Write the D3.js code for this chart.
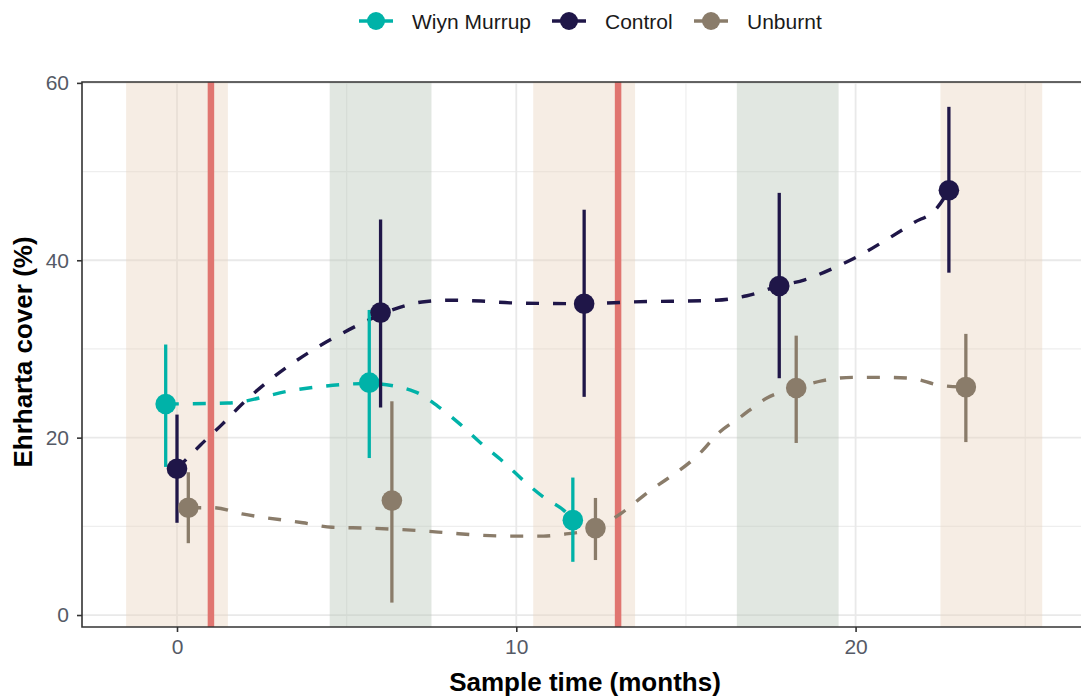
<!DOCTYPE html>
<html>
<head>
<meta charset="utf-8">
<script src="https://cdn.jsdelivr.net/npm/d3@7"></script>
<style>
  html, body { margin: 0; padding: 0; background: #ffffff; }
  svg { display: block; font-family: "Liberation Sans", Arial, sans-serif; }
</style>
</head>
<body>
<svg id="chart" width="1081" height="699"></svg>
<script>
// ---------- data ----------
const seriesNames = ["Wiyn Murrup", "Control", "Unburnt"];
const seriesColors = ["#00b2a8", "#1f1648", "#8a7c6a"];

const times = [0, 6, 12, 18, 23];

// mean cover (%) and error bar limits per series, aligned with `times` (null = not sampled)
const wiynMean  = [23.8, 26.2, 10.7, null, null];
const wiynLow   = [16.7, 17.7, 6.0, null, null];
const wiynHigh  = [30.5, 34.4, 15.5, null, null];

const controlMean = [16.5, 34.1, 35.1, 37.1, 47.9];
const controlLow  = [10.4, 23.4, 24.6, 26.7, 38.6];
const controlHigh = [22.6, 44.6, 45.7, 47.6, 57.3];

const unburntMean = [12.1, 12.9, 9.8, 25.6, 25.7];
const unburntLow  = [8.1, 1.4, 6.2, 19.4, 19.5];
const unburntHigh = [16.1, 24.1, 13.2, 31.5, 31.7];

// fitted trend lines: [time, cover]
const wiynTrend = [[-0.33,23.8],[1.5,23.9],[3.5,25.4],[5.67,26.1],[7.0,25.2],[7.7,23.5],[8.35,21.5],[8.95,19.4],[9.67,17.1],[10.2,15.2],[10.8,13.3],[11.4,11.8],[11.67,10.8]];
const controlTrend = [[0,16.5],[0.7,19.2],[1.33,21.5],[1.95,23.9],[3.97,29.8],[4.74,31.5],[5.5,33.0],[6.34,34.4],[7.22,35.3],[8.04,35.5],[8.96,35.4],[9.82,35.2],[12,35.1],[13.4,35.3],[15.9,35.5],[16.8,36.0],[17.74,37.1],[18.5,37.8],[19.4,39.2],[20.1,40.5],[20.9,42.3],[21.7,44.2],[22.4,45.9],[22.75,47.9]];
const unburntTrend = [[0.33,12.1],[1.06,12.1],[1.92,11.4],[3.71,10.4],[4.57,9.9],[5.63,9.8],[7.19,9.5],[8.04,9.25],[8.93,9.0],[9.75,8.9],[10.8,8.9],[11.38,9.1],[12.33,9.8],[13.1,11.5],[13.8,13.6],[15.5,18.6],[15.9,20.3],[16.6,22.3],[17.4,24.5],[18.24,25.6],[19.0,26.4],[19.9,26.8],[20.75,26.8],[21.6,26.7],[22.5,25.9],[23.25,25.7]];

// shaded seasonal bands [start, end, type]
const bandStarts = [-1.5, 4.5, 10.5, 16.5, 22.5];
const bandEnds   = [1.5, 7.5, 13.5, 19.5, 25.5];
const bandTypes  = ["warm", "cool", "warm", "cool", "warm"];
// burn events (months)
const burnTimes = [1, 13];

const xTicks = [0, 10, 20];
const xMinor = [5, 15, 25];
const yTicks = [0, 20, 40, 60];
const yMinor = [10, 30, 50];

const xTitle = "Sample time (months)";
const yTitle = "Ehrharta cover (%)";

// ---------- layout ----------
const svg = d3.select("#chart");
const panel = { left: 82, right: 1088, top: 82, bottom: 627 };

const x = d3.scaleLinear().domain([-2.8, 26.85]).range([panel.left, panel.right]);
const y = d3.scaleLinear().domain([-1.35, 60.1]).range([panel.bottom, panel.top]);

const bandFill = { warm: "#e8d3bc", cool: "#b3c3b4" };

// clip
svg.append("defs").append("clipPath").attr("id", "clip")
  .append("rect").attr("x", panel.left).attr("y", panel.top)
  .attr("width", panel.right - panel.left).attr("height", panel.bottom - panel.top);

const g = svg.append("g").attr("clip-path", "url(#clip)");

// grid
g.selectAll(".ygm").data(yMinor).join("line")
  .attr("x1", panel.left).attr("x2", panel.right)
  .attr("y1", d => y(d)).attr("y2", d => y(d))
  .attr("stroke", "#eeeeee").attr("stroke-width", 1.2);
g.selectAll(".xgm").data(xMinor).join("line")
  .attr("y1", panel.top).attr("y2", panel.bottom)
  .attr("x1", d => x(d)).attr("x2", d => x(d))
  .attr("stroke", "#eeeeee").attr("stroke-width", 1.2);
g.selectAll(".yg").data(yTicks).join("line")
  .attr("x1", panel.left).attr("x2", panel.right)
  .attr("y1", d => y(d)).attr("y2", d => y(d))
  .attr("stroke", "#e9e9e9").attr("stroke-width", 1.8);
g.selectAll(".xg").data(xTicks).join("line")
  .attr("y1", panel.top).attr("y2", panel.bottom)
  .attr("x1", d => x(d)).attr("x2", d => x(d))
  .attr("stroke", "#e9e9e9").attr("stroke-width", 1.8);

// bands
g.selectAll(".band").data(bandStarts.map((s, i) => ({ s, e: bandEnds[i], t: bandTypes[i] }))).join("rect")
  .attr("x", d => x(d.s)).attr("width", d => x(d.e) - x(d.s))
  .attr("y", panel.top).attr("height", panel.bottom - panel.top)
  .attr("fill", d => bandFill[d.t]).attr("fill-opacity", 0.4);

// burn lines
g.selectAll(".burn").data(burnTimes).join("line")
  .attr("x1", d => x(d)).attr("x2", d => x(d))
  .attr("y1", panel.top).attr("y2", panel.bottom)
  .attr("stroke", "#e07570").attr("stroke-width", 6.5);

// series assembly
const means = [wiynMean, controlMean, unburntMean];
const lows = [wiynLow, controlLow, unburntLow];
const highs = [wiynHigh, controlHigh, unburntHigh];
const trends = [wiynTrend, controlTrend, unburntTrend];

// dodge (width 1, like position_dodge)
const pts = [];
times.forEach((t, ti) => {
  const present = [0, 1, 2].filter(si => means[si][ti] != null);
  const n = present.length;
  present.forEach((si, k) => {
    const off = (k - (n - 1) / 2) * (1 / n);
    pts.push({ si, t: t + off, m: means[si][ti], lo: lows[si][ti], hi: highs[si][ti] });
  });
});

// trend lines
const line = d3.line().x(d => x(d[0])).y(d => y(d[1])).curve(d3.curveMonotoneX);
g.selectAll(".trend").data(trends).join("path")
  .attr("d", d => line(d))
  .attr("fill", "none")
  .attr("stroke", (d, i) => seriesColors[i])
  .attr("stroke-width", 3.4)
  .attr("stroke-dasharray", "13,14");

// error bars and points, by series order
[0, 1, 2].forEach(si => {
  const p = pts.filter(d => d.si === si);
  g.selectAll(".err" + si).data(p).join("line")
    .attr("x1", d => x(d.t)).attr("x2", d => x(d.t))
    .attr("y1", d => y(d.lo)).attr("y2", d => y(d.hi))
    .attr("stroke", seriesColors[si]).attr("stroke-width", 3.3);
  g.selectAll(".pt" + si).data(p).join("circle")
    .attr("cx", d => x(d.t)).attr("cy", d => y(d.m)).attr("r", 10.3)
    .attr("fill", seriesColors[si]);
});

// panel border (top, left, bottom)
svg.append("path")
  .attr("d", `M${panel.right},${panel.top}H${panel.left}V${panel.bottom}H${panel.right}`)
  .attr("fill", "none").attr("stroke", "#333333").attr("stroke-width", 1.6);

// axes
const xAxis = svg.append("g").attr("transform", `translate(0,${panel.bottom})`)
  .call(d3.axisBottom(x).tickValues(xTicks).tickSize(5).tickPadding(7).tickFormat(d3.format("d")));
const yAxis = svg.append("g").attr("transform", `translate(${panel.left},0)`)
  .call(d3.axisLeft(y).tickValues(yTicks).tickSize(5).tickPadding(8).tickFormat(d3.format("d")));
[xAxis, yAxis].forEach(a => {
  a.select(".domain").remove();
  a.selectAll(".tick line").attr("stroke", "#333333").attr("stroke-width", 1.6);
  a.selectAll(".tick text").attr("fill", "#555a66").style("font-size", "21px")
    .style("font-family", '"Liberation Sans", Arial, sans-serif');
});

// axis titles
svg.append("text").attr("x", 585).attr("y", 691).attr("text-anchor", "middle")
  .style("font-size", "26px").style("font-weight", "bold").attr("fill", "#000")
  .text(xTitle);
svg.append("text").attr("transform", "translate(32,352) rotate(-90)").attr("text-anchor", "middle")
  .style("font-size", "26px").style("font-weight", "bold").attr("fill", "#000")
  .text(yTitle);

// legend
const legendX = [376, 569, 711];
const leg = svg.append("g");
seriesNames.forEach((name, i) => {
  const cx = legendX[i];
  leg.append("line").attr("x1", cx - 17).attr("x2", cx + 17).attr("y1", 21).attr("y2", 21)
    .attr("stroke", seriesColors[i]).attr("stroke-width", 3.3);
  leg.append("circle").attr("cx", cx).attr("cy", 21).attr("r", 9).attr("fill", seriesColors[i]);
  leg.append("text").attr("x", cx + 36).attr("y", 29)
    .style("font-size", "21px").attr("fill", "#1a1a1a").text(name);
});
</script>
</body>
</html>
